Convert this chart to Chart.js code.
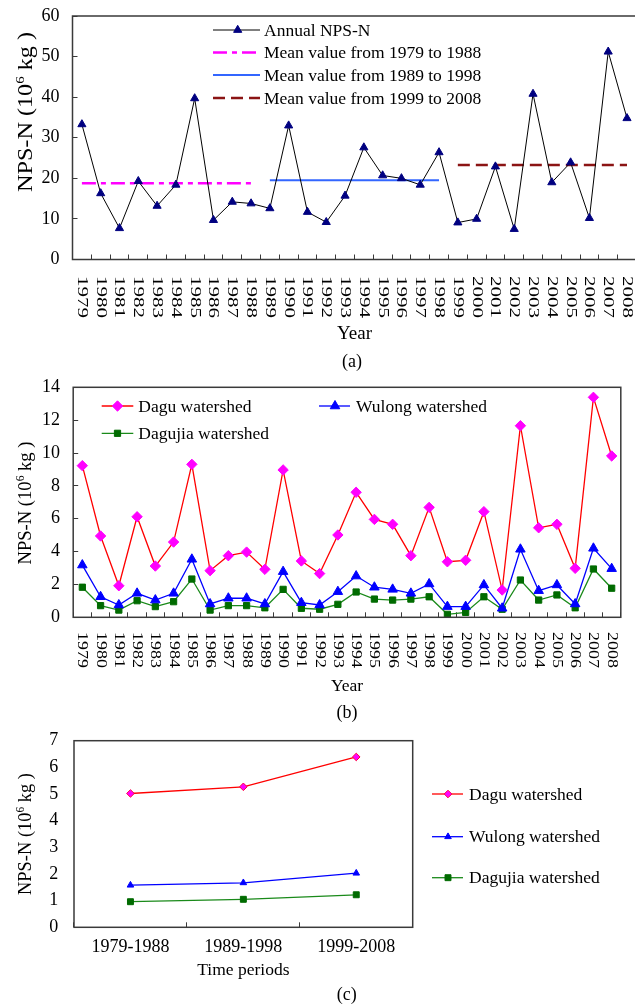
<!DOCTYPE html>
<html>
<head>
<meta charset="utf-8">
<script src="https://cdn.jsdelivr.net/npm/chart.js@4.4.0/dist/chart.umd.min.js"></script>
<style>
html,body{margin:0;padding:0;background:#fff;overflow:hidden;width:635px;height:1006px;}
canvas{position:absolute;left:0;}
</style>
</head>
<body>
<canvas id="ca" width="645" height="375" style="top:0px"></canvas>
<canvas id="cb" width="635" height="350" style="top:375px"></canvas>
<canvas id="cc" width="635" height="281" style="top:725px"></canvas>
<script>
// ---------- DATA ----------
const years = ['1979','1980','1981','1982','1983','1984','1985','1986','1987','1988',
               '1989','1990','1991','1992','1993','1994','1995','1996','1997','1998',
               '1999','2000','2001','2002','2003','2004','2005','2006','2007','2008'];
const annualNPSN = [33.3,16.3,7.7,19.3,13.2,18.4,39.7,9.7,14.2,13.8,
                    12.6,33.0,11.7,9.2,15.7,27.6,20.7,20.0,18.4,26.4,
                    9.1,10.0,22.9,7.5,40.8,19.0,23.9,10.2,51.2,34.8];
const periods = ['1979-1988','1989-1998','1999-2008'];
const periodStart = ['1979','1989','1999'];
const periodEnd = ['1988','1998','2008'];
const periodMeans = [18.8, 19.5, 23.3];
const meanLabels = ['Mean value from 1979 to 1988','Mean value from 1989 to 1998','Mean value from 1999 to 2008'];

const dagu = [9.23,4.95,1.92,6.12,3.12,4.58,9.31,2.84,3.75,3.97,
              2.92,8.97,3.43,2.66,5.01,7.61,5.96,5.66,3.75,6.69,
              3.38,3.47,6.43,1.66,11.66,5.45,5.66,2.98,13.39,9.82];
const wulong = [3.18,1.25,0.75,1.46,1.05,1.46,3.53,0.81,1.16,1.16,
                0.81,2.78,0.89,0.75,1.56,2.51,1.83,1.70,1.46,2.03,
                0.65,0.65,1.97,0.55,4.14,1.62,1.97,0.81,4.20,2.96];
const dagujia = [1.83,0.71,0.44,1.01,0.65,0.95,2.33,0.44,0.71,0.71,
                 0.58,1.70,0.55,0.49,0.79,1.54,1.11,1.05,1.11,1.25,
                 0.18,0.30,1.25,0.49,2.27,1.05,1.36,0.58,2.94,1.77];
const daguPeriod = [5.02, 5.27, 6.39];
const wulongPeriod = [1.58, 1.67, 2.03];
const dagujiaPeriod = [0.96, 1.05, 1.22];
const seriesNames = ['Dagu watershed','Wulong watershed','Dagujia watershed'];

const yTicksA = [0, 60, 10];   // min, max, step
const yTicksB = [0, 14, 2];
const yTicksC = [0, 7, 1];

// ---------- STYLE / HELPERS ----------
const serif = '"Liberation Serif", "Times New Roman", serif';
const TXT = '#000';
const AXC = '#3a3a3a';

function makeDecor(cfg) {
  return {
    id: 'decor',
    afterDraw(chart) {
      const ctx = chart.ctx, ca = chart.chartArea;
      ctx.save();
      // frame
      ctx.strokeStyle = AXC; ctx.lineWidth = 1.5; ctx.setLineDash([]);
      ctx.strokeRect(ca.left, ca.top, ca.right - ca.left, ca.bottom - ca.top);
      // rotated category labels (reading top to bottom)
      if (cfg.rot) {
        const xs = chart.scales.x;
        ctx.fillStyle = TXT;
        ctx.font = cfg.rot.size + 'px ' + serif;
        ctx.textAlign = 'left'; ctx.textBaseline = 'middle';
        xs.ticks.forEach((t, i) => {
          const x = xs.getPixelForTick(i);
          ctx.save();
          ctx.translate(x, cfg.rot.top);
          ctx.rotate(Math.PI / 2);
          ctx.scale(cfg.rot.sx, cfg.rot.sy);
          ctx.fillText(xs.getLabelForValue(t.value), 0, 0);
          ctx.restore();
        });
      }
      // y title
      if (cfg.ytitle) {
        const t = cfg.ytitle;
        ctx.save();
        ctx.translate(t.x, t.y);
        ctx.rotate(-Math.PI / 2);
        const f = t.size + 'px ' + serif, fs = (t.size * 0.62) + 'px ' + serif;
        const a = 'NPS-N (10', c = ' kg )';
        ctx.font = f;
        const wa = ctx.measureText(a).width, wc = ctx.measureText(c).width;
        ctx.font = fs;
        const wb = ctx.measureText('6').width;
        const W = wa + wb + wc;
        const sx = t.len ? t.len / W : 1;
        ctx.scale(sx, 1);
        ctx.fillStyle = TXT; ctx.textAlign = 'left'; ctx.textBaseline = 'alphabetic';
        const base = t.size * 0.33, x0 = -W / 2;
        ctx.font = f; ctx.fillText(a, x0, base);
        ctx.font = fs; ctx.fillText('6', x0 + wa, base - t.size * 0.38);
        ctx.font = f; ctx.fillText(c, x0 + wa + wb, base);
        ctx.restore();
      }
      // panel label
      if (cfg.panel) {
        ctx.fillStyle = TXT;
        ctx.font = cfg.panel.size + 'px ' + serif;
        ctx.textAlign = 'center'; ctx.textBaseline = 'middle';
        ctx.fillText(cfg.panel.text, cfg.panel.x, cfg.panel.y);
      }
      // legend
      if (cfg.legend) {
        cfg.legend.forEach(it => {
          const ds = chart.data.datasets[it.ds];
          ctx.save();
          ctx.beginPath();
          ctx.strokeStyle = ds.borderColor;
          ctx.lineWidth = ds.borderWidth;
          ctx.setLineDash(ds.borderDash || []);
          ctx.moveTo(it.x1, it.y); ctx.lineTo(it.x2, it.y); ctx.stroke();
          ctx.setLineDash([]);
          if (ds.pointRadius > 0) {
            ctx.fillStyle = ds.pointBackgroundColor;
            ctx.strokeStyle = ds.pointBorderColor;
            ctx.lineWidth = ds.pointBorderWidth || 1;
            Chart.helpers.drawPoint(ctx, {pointStyle: ds.pointStyle, rotation: 0,
              radius: it.r || ds.pointRadius, borderWidth: ds.pointBorderWidth || 1}, it.xm, it.y);
          }
          ctx.beginPath();
          ctx.fillStyle = TXT;
          ctx.font = it.size + 'px ' + serif;
          ctx.textAlign = 'left'; ctx.textBaseline = 'middle';
          ctx.fillText(ds.label, it.xt, it.y + 1);
          ctx.restore();
        });
      }
      ctx.restore();
    }
  };
}

function xScale(height, extra) {
  return Object.assign({
    offset: true,
    grid: {offset: true, drawOnChartArea: false, tickLength: -5, color: AXC, lineWidth: 1},
    border: {display: false},
    ticks: {display: false},
    afterFit(s) { s.height = height; s.paddingLeft = 0; s.paddingRight = 0; s.paddingTop = 0; s.paddingBottom = 0; }
  }, extra || {});
}
function yScale(t, width, pad, tickLen) {
  return {
    min: t[0], max: t[1],
    grid: {drawOnChartArea: false, tickLength: tickLen, drawTicks: tickLen !== 0, color: AXC, lineWidth: 1},
    border: {display: false},
    ticks: {stepSize: t[2], padding: pad, color: TXT, font: {family: serif, size: 18}},
    afterFit(s) { s.width = width; s.paddingTop = 0; s.paddingBottom = 0; s.paddingLeft = 0; s.paddingRight = 0; }
  };
}

// ---------- CHART (a) ----------
const meanColors = ['#FF00FF', '#3366FF', '#8B1414'];
const meanDash = [[14, 5, 5, 5], [], [12, 6]];
const dsA = [{
  label: 'Annual NPS-N', data: annualNPSN,
  borderColor: '#000', borderWidth: 1, tension: 0,
  pointStyle: 'triangle', pointRadius: 4.7,
  pointBackgroundColor: '#000080', pointBorderColor: '#000080', pointBorderWidth: 1
}];
meanLabels.forEach((lab, k) => {
  dsA.push({
    label: lab,
    data: [{x: periodStart[k], y: periodMeans[k]}, {x: periodEnd[k], y: periodMeans[k]}],
    borderColor: meanColors[k], borderWidth: k === 1 ? 2 : 2.5, borderDash: meanDash[k],
    pointRadius: 0, tension: 0
  });
});

new Chart(document.getElementById('ca'), {
  type: 'line',
  data: {labels: years, datasets: dsA},
  options: {
    responsive: false, animation: false, devicePixelRatio: 1,
    layout: {padding: {left: 0, top: 16, right: 8.6, bottom: 0}},
    plugins: {legend: {display: false}, tooltip: {enabled: false}, title: {display: false}},
    scales: {
      x: xScale(115.5, {title: {display: true, text: 'Year', color: TXT,
          font: {family: serif, size: 19}, padding: {top: 0, bottom: 30}}}),
      y: yScale(yTicksA, 72.5, 18, -5)
    }
  },
  plugins: [makeDecor({
    rot: {top: 276, size: 16, sx: 1.31, sy: 0.95},
    ytitle: {x: 25, y: 112, size: 21, len: 160},
    panel: {text: '(a)', x: 352, y: 362, size: 18},
    legend: [
      {ds: 0, x1: 213, x2: 260, xm: 237.7, xt: 264, y: 30, size: 17.5},
      {ds: 1, x1: 213, x2: 260, xm: 237.7, xt: 264, y: 52.5, size: 17.5},
      {ds: 2, x1: 213, x2: 260, xm: 237.7, xt: 264, y: 75, size: 17.5},
      {ds: 3, x1: 213, x2: 260, xm: 237.7, xt: 264, y: 98, size: 17.5}
    ]
  })]
});

// ---------- CHART (b) ----------
const watershedStyles = [
  {line: '#FF0000', fill: '#FF00FF', edge: '#FF00FF', style: 'rectRot', rB: 5.2, rC: 3.8},
  {line: '#0000FF', fill: '#0000FF', edge: '#0000FF', style: 'triangle', rB: 5.5, rC: 3.8},
  {line: '#1A8A1A', fill: '#006B00', edge: '#006B00', style: 'rect', rB: 4.4, rC: 4.2}
];
const annualSeries = [dagu, wulong, dagujia];
const dsB = annualSeries.map((arr, k) => ({
  label: seriesNames[k], data: arr,
  borderColor: watershedStyles[k].line, borderWidth: 1.3, tension: 0,
  pointStyle: watershedStyles[k].style, pointRadius: watershedStyles[k].rB,
  pointBackgroundColor: watershedStyles[k].fill, pointBorderColor: watershedStyles[k].edge, pointBorderWidth: 1
}));
dsB[0].order = 0; dsB[1].order = 1; dsB[2].order = 2;

new Chart(document.getElementById('cb'), {
  type: 'line',
  data: {labels: years, datasets: dsB},
  options: {
    responsive: false, animation: false, devicePixelRatio: 1,
    layout: {padding: {left: 0, top: 12.3, right: 14.2, bottom: 0}},
    plugins: {legend: {display: false}, tooltip: {enabled: false}, title: {display: false}},
    scales: {
      x: xScale(107.7, {title: {display: true, text: 'Year', color: TXT,
          font: {family: serif, size: 17.5}, padding: {top: 0, bottom: 28}}}),
      y: yScale(yTicksB, 73.2, 18.2, -5)
    }
  },
  plugins: [makeDecor({
    rot: {top: 257, size: 16, sx: 1.12, sy: 0.95},
    ytitle: {x: 25, y: 128, size: 18.5, len: 123},
    panel: {text: '(b)', x: 347, y: 338, size: 18},
    legend: [
      {ds: 0, x1: 101.7, x2: 133.3, xm: 117.5, xt: 138.3, y: 31, size: 17.5},
      {ds: 1, x1: 319, x2: 350, xm: 335, xt: 356, y: 31, size: 17.5},
      {ds: 2, x1: 101.7, x2: 133.3, xm: 117.5, xt: 138.3, y: 58.3, size: 17.5}
    ]
  })]
});

// ---------- CHART (c) ----------
const periodSeries = [daguPeriod, wulongPeriod, dagujiaPeriod];
const dsC = periodSeries.map((arr, k) => ({
  label: seriesNames[k], data: arr,
  borderColor: watershedStyles[k].line, borderWidth: 1.3, tension: 0,
  pointStyle: watershedStyles[k].style, pointRadius: watershedStyles[k].rC,
  pointBackgroundColor: watershedStyles[k].fill,
  pointBorderColor: k === 0 ? '#FF0040' : watershedStyles[k].edge, pointBorderWidth: 1
}));

new Chart(document.getElementById('cc'), {
  type: 'line',
  data: {labels: periods, datasets: dsC},
  options: {
    responsive: false, animation: false, devicePixelRatio: 1,
    layout: {padding: {left: 0, top: 15.7, right: 222.3, bottom: 0}},
    plugins: {legend: {display: false}, tooltip: {enabled: false}, title: {display: false}},
    scales: {
      x: xScale(78.7, {
        ticks: {display: true, padding: 14.2, maxRotation: 0, minRotation: 0, autoSkip: false,
                color: TXT, font: {family: serif, size: 18}},
        title: {display: true, text: 'Time periods', color: TXT,
                font: {family: serif, size: 17.5}, padding: {top: 0, bottom: 25}}
      }),
      y: yScale(yTicksC, 74, 15.7, 0)
    }
  },
  plugins: [makeDecor({
    ytitle: {x: 25, y: 109, size: 18.5, len: 122},
    panel: {text: '(c)', x: 346.7, y: 270, size: 18},
    legend: [
      {ds: 0, x1: 432, x2: 463, xm: 448, xt: 469, y: 69, size: 17.5},
      {ds: 1, x1: 432, x2: 463, xm: 448, xt: 469, y: 111.7, size: 17.5},
      {ds: 2, x1: 432, x2: 463, xm: 448, xt: 469, y: 152.7, size: 17.5}
    ]
  })]
});
</script>
</body>
</html>
